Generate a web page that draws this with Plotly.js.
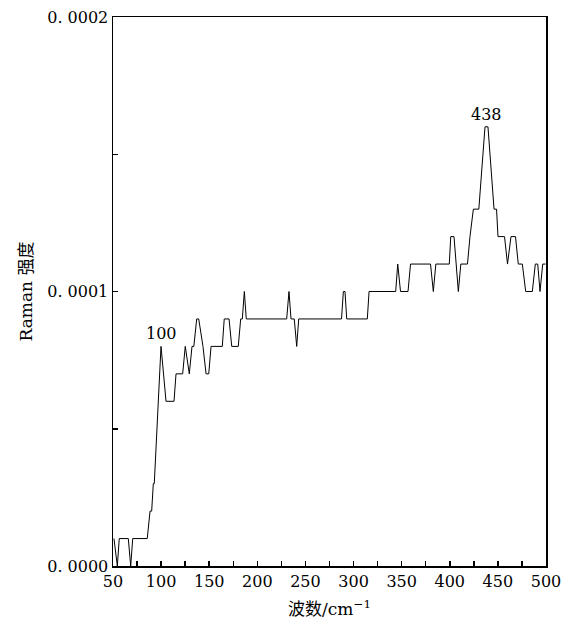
<!DOCTYPE html>
<html>
<head>
<meta charset="utf-8">
<script src="https://cdn.plot.ly/plotly-3.0.1.min.js"></script>
<style>html,body{margin:0;padding:0;background:#fff;}#chart{width:575px;height:622px;}</style>
</head>
<body>
<div id="chart"></div>
<script>
// Raman spectrum (wavenumber in cm^-1, intensity)
var wavenumber = [51.0, 54.5, 56.5, 65.9, 68.4, 70.5, 85.6, 88.5, 90.2, 91.9, 92.9, 99.9, 105.1, 113.4, 115.5, 122.4, 125.1, 129.3, 132.1, 134.0, 137.0, 139.1, 143.5, 146.7, 149.5, 151.9, 163.6, 165.6, 170.6, 173.4, 180.2, 182.7, 184.4, 186.5, 188.5, 230.5, 232.9, 235.0, 238.4, 240.9, 243.0, 287.5, 289.4, 291.1, 292.9, 314.3, 316.1, 343.8, 345.9, 348.8, 356.6, 359.2, 380.0, 382.9, 385.5, 399.5, 401.0, 404.4, 408.9, 411.5, 418.4, 421.0, 424.5, 430.2, 436.6, 439.7, 446.0, 448.6, 450.1, 456.9, 460.0, 463.6, 468.3, 471.2, 475.4, 478.9, 485.8, 488.9, 491.4, 493.8, 496.6, 499.5];
var intensity = [0.00001, 0, 0.00001, 0.00001, 0, 0.00001, 0.00001, 0.00002, 0.00002, 0.00003, 0.00003, 0.00008, 0.00006, 0.00006, 0.00007, 0.00007, 0.00008, 0.00007, 0.00008, 0.00008, 0.00009, 0.00009, 0.00008, 0.00007, 0.00007, 0.00008, 0.00008, 0.00009, 0.00009, 0.00008, 0.00008, 0.00009, 0.00009, 0.0001, 0.00009, 0.00009, 0.0001, 0.00009, 0.00009, 0.00008, 0.00009, 0.00009, 0.0001, 0.0001, 0.00009, 0.00009, 0.0001, 0.0001, 0.00011, 0.0001, 0.0001, 0.00011, 0.00011, 0.0001, 0.00011, 0.00011, 0.00012, 0.00012, 0.0001, 0.00011, 0.00011, 0.00012, 0.00013, 0.00013, 0.00016, 0.00016, 0.00013, 0.00013, 0.00012, 0.00012, 0.00011, 0.00012, 0.00012, 0.00011, 0.00011, 0.0001, 0.0001, 0.00011, 0.00011, 0.0001, 0.00011, 0.00011];

var xTickVals = [50, 100, 150, 200, 250, 300, 350, 400, 450, 500];
var xTickText = ["50", "100", "150", "200", "250", "300", "350", "400", "450", "500"];
var yTickVals = [0, 0.0001, 0.0002];
var yTickText = ["0. 0000", "0. 0001", "0. 0002"];

var peakX = [100, 438];
var peakY = [0.00008, 0.00016];
var peakLabels = ["100", "438"];

var fontFam = "DejaVu Serif, Noto Sans CJK SC";

var trace = {
  x: wavenumber, y: intensity, type: "scatter", mode: "lines",
  line: {color: "#000", width: 1}, hoverinfo: "skip"
};

var annotations = peakX.map(function (px, i) {
  return {x: px, y: peakY[i], text: peakLabels[i], showarrow: false,
    xanchor: "center", yanchor: "bottom", yshift: 1,
    font: {family: fontFam, size: 16, color: "#000"}};
});

var layout = {
  width: 575, height: 622,
  margin: {l: 113, r: 29, t: 17, b: 56},
  paper_bgcolor: "#fff", plot_bgcolor: "#fff",
  showlegend: false,
  font: {family: fontFam, size: 16, color: "#000"},
  xaxis: {
    range: [50, 500], tickmode: "array", tickvals: xTickVals, ticktext: xTickText,
    ticks: "inside", ticklen: 5, tickwidth: 1.5, tickcolor: "#000",
    minor: {tickmode: "linear", tick0: 75, dtick: 50, ticks: "inside", ticklen: 5, tickwidth: 1.5, tickcolor: "#000", showgrid: false},
    showline: true, linecolor: "#000", linewidth: 1.5, mirror: true,
    showgrid: false, zeroline: false,
    tickfont: {family: fontFam, size: 16, color: "#000"},
    title: {text: "波数/cm<sup>−1</sup>", font: {family: fontFam, size: 17, color: "#000"}, standoff: 13}
  },
  yaxis: {
    range: [0, 0.0002], tickmode: "array", tickvals: yTickVals, ticktext: yTickText,
    ticks: "inside", ticklen: 5, tickwidth: 1.5, tickcolor: "#000",
    minor: {tickmode: "linear", tick0: 0.00005, dtick: 0.0001, ticks: "inside", ticklen: 5, tickwidth: 1.5, tickcolor: "#000", showgrid: false},
    showline: true, linecolor: "#000", linewidth: 1.5, mirror: true,
    showgrid: false, zeroline: false,
    tickfont: {family: fontFam, size: 16, color: "#000"},
    title: {text: "Raman 强度", font: {family: fontFam, size: 17, color: "#000"}, standoff: 10}
  },
  annotations: annotations
};

Plotly.newPlot("chart", [trace], layout, {staticPlot: true, displayModeBar: false});
</script>
</body>
</html>
